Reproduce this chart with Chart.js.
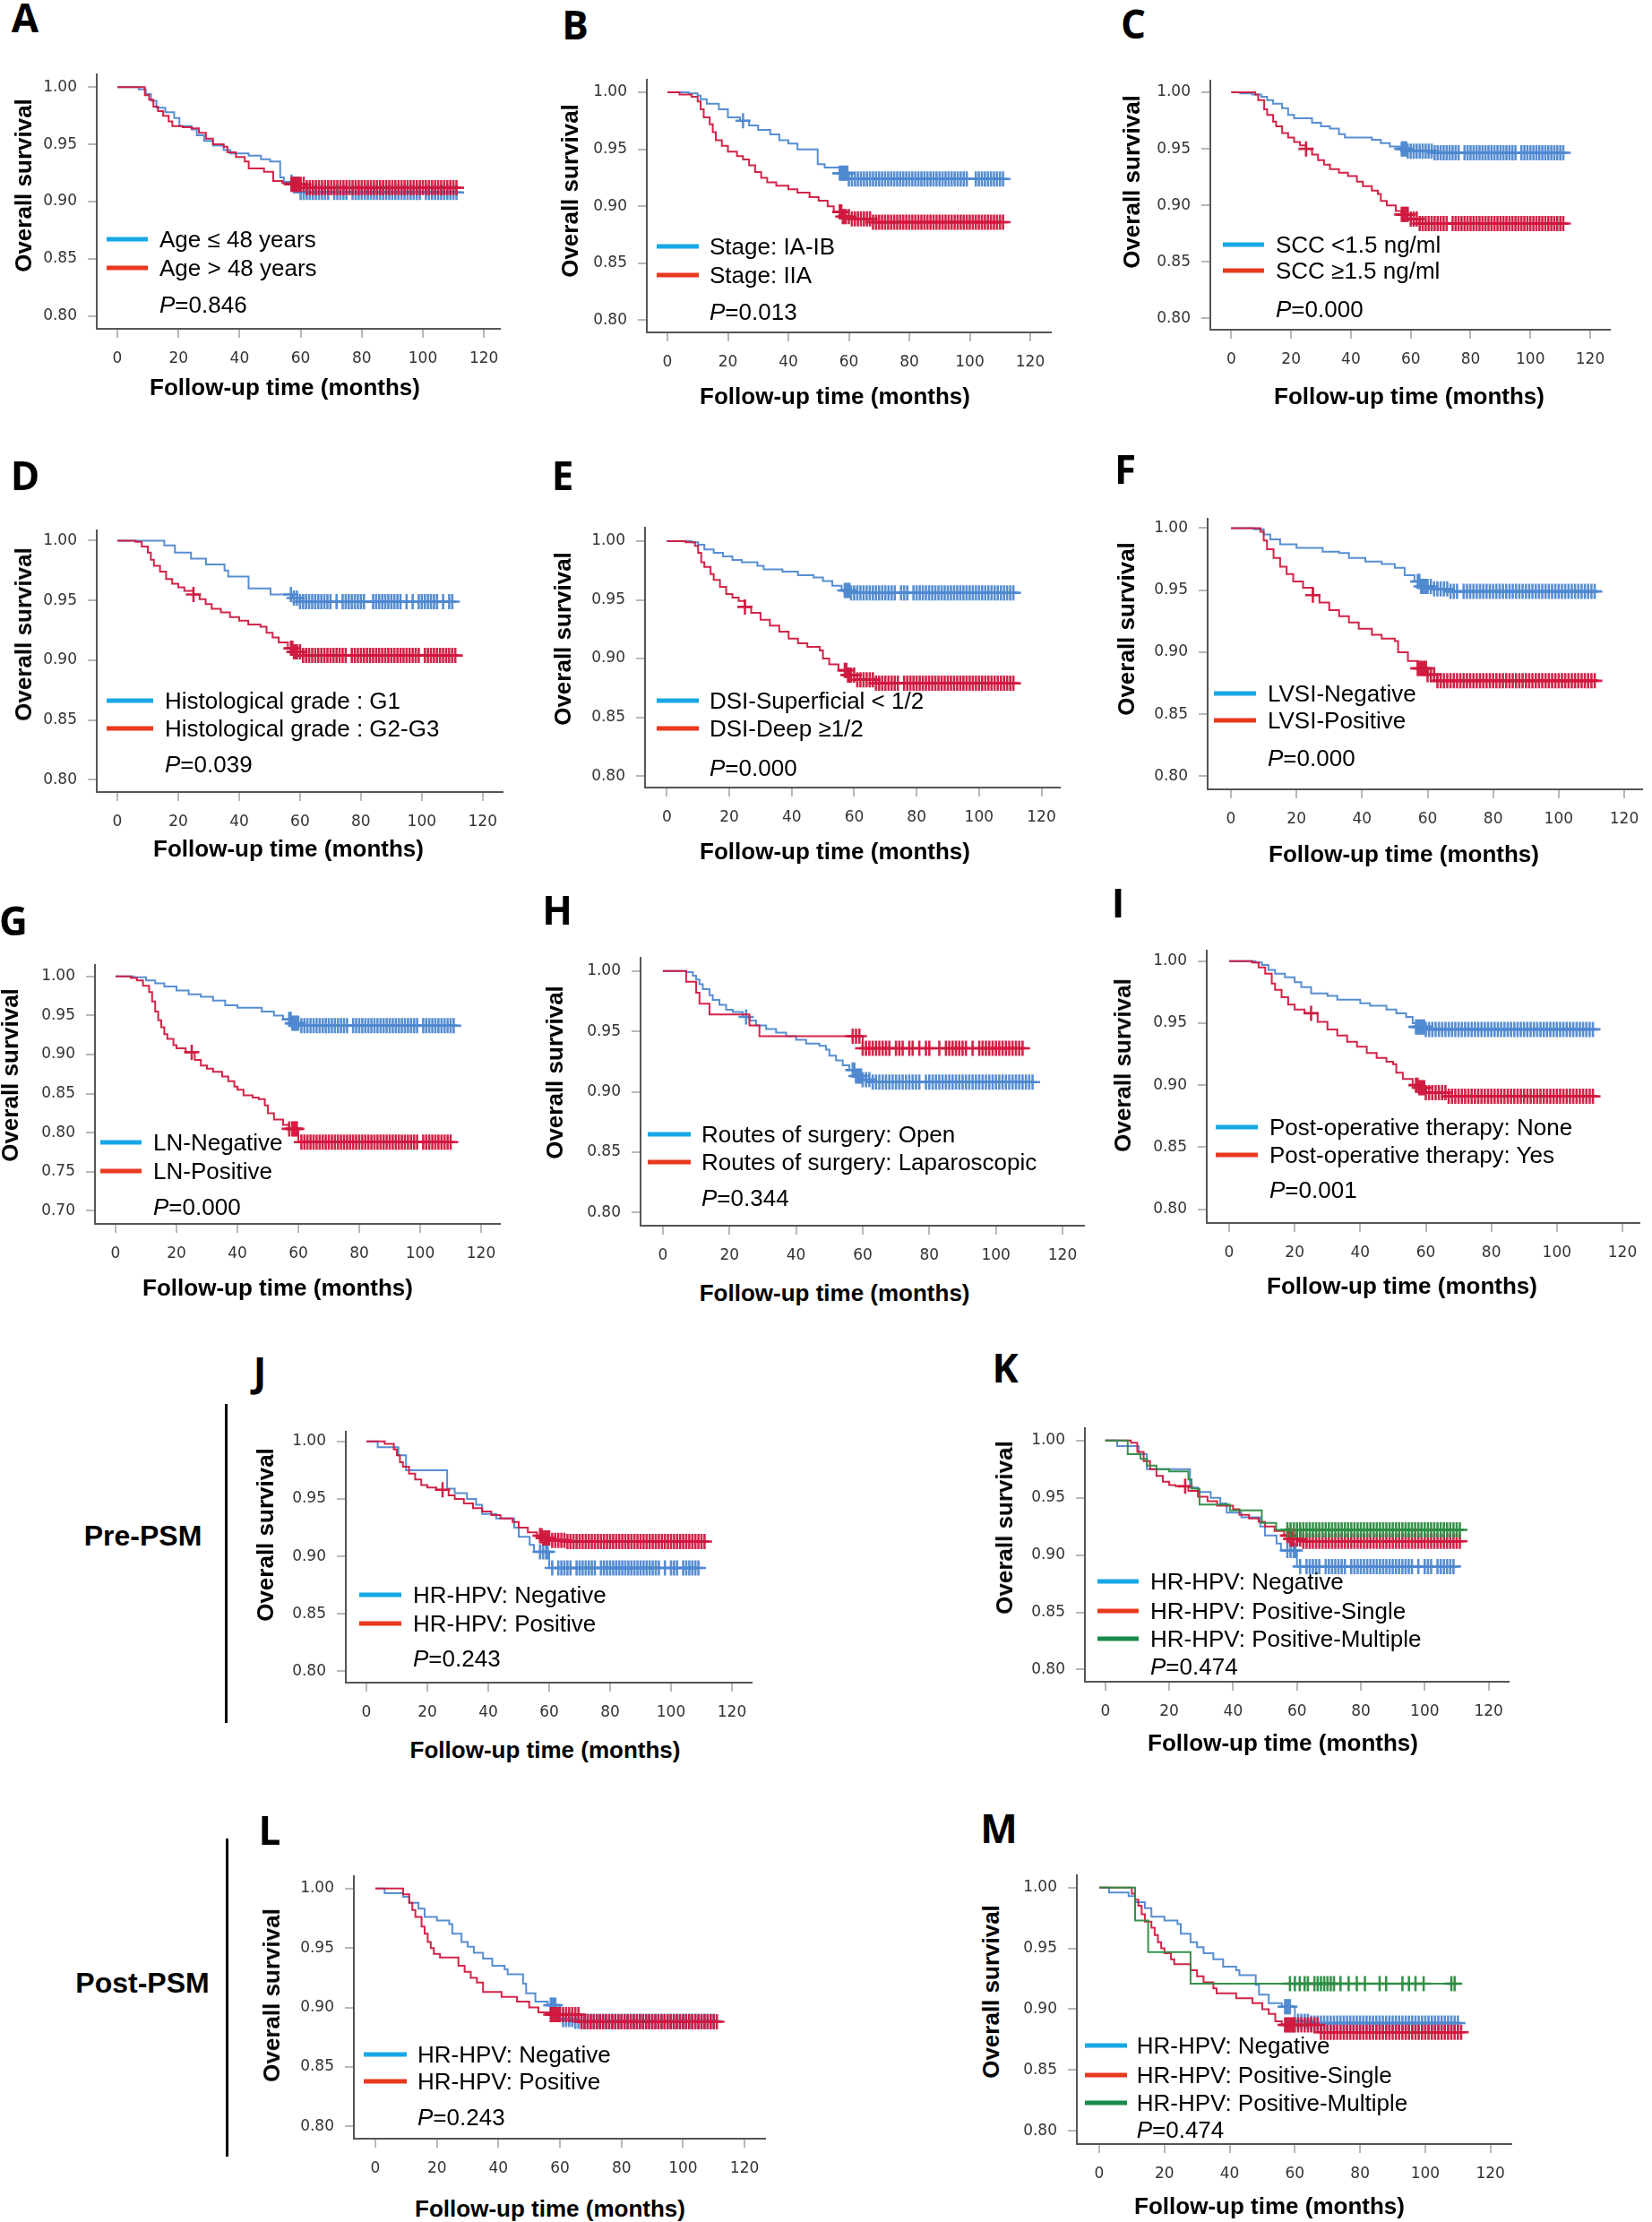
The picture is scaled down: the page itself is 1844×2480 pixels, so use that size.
<!DOCTYPE html>
<html>
<head>
<meta charset="utf-8">
<script src="https://cdn.jsdelivr.net/npm/chart.js@4.4.0/dist/chart.umd.min.js"></script>
<style>
  body { margin: 0; background: #fff; }
  #fig { position: relative; width: 1844px; height: 2480px; background: #fff; overflow: hidden;
         font-family: "Liberation Sans", Arial, sans-serif; color: #000; }
  #fig canvas { position: absolute; }
  .lbl { position: absolute; white-space: nowrap; line-height: 1; }
  .letter { font-family: "Open Sans", sans-serif; font-weight: 700; font-size: 44px; transform: translate(-50%, -50%); }
  .xt { font-weight: 700; font-size: 26px; transform: translate(-50%, -50%); }
  .yt { font-weight: 700; font-size: 26px; transform: translate(-50%, -50%) rotate(-90deg); }
  .leg { transform: translateY(-50%); font-size: 26px; }
  .key { position: absolute; height: 5px; transform: translateY(-50%); }
  .grp { font-weight: 700; font-size: 32px; transform: translate(-50%, -50%); }
  .bar { position: absolute; width: 3px; background: #000; }
</style>
</head>
<body>
<div id="fig"></div>
<script>
// tick values shared by all panels
const xTicks = [0, 20, 40, 60, 80, 100, 120];
const yTicks = [0.80, 0.85, 0.90, 0.95, 1.00];
const yTicksLN = [0.70, 0.75, 0.80, 0.85, 0.90, 0.95, 1.00];

// survival curves: event times (months) and survival after each event
// A - age
const aBlueT = [0, 7, 9.3, 11, 12.8, 15.7, 18.6, 20.3, 24.3, 26, 28.4, 31.3, 34.8, 37, 43, 47, 50, 53.3, 54.5, 58, 59.7, 111.5];
const aBlueS = [1, 0.998, 0.994, 0.988, 0.982, 0.978, 0.973, 0.966, 0.963, 0.958, 0.953, 0.949, 0.945, 0.942, 0.940, 0.937, 0.935, 0.921, 0.917, 0.915, 0.908, 0.908];
const aRedT = [0, 9, 10.4, 11.8, 13.3, 15, 16.8, 18, 21.4, 24.3, 26.7, 29, 31.3, 34.8, 36, 38.8, 41.7, 43, 48, 51, 54, 57, 61.4, 112];
const aRedS = [1, 0.993, 0.989, 0.983, 0.979, 0.975, 0.970, 0.966, 0.965, 0.964, 0.960, 0.955, 0.950, 0.948, 0.943, 0.939, 0.935, 0.929, 0.926, 0.918, 0.916, 0.915, 0.912, 0.912];
// B - stage
const bBlueT = [0, 7, 10, 11, 13, 17, 20, 24, 27, 30, 34, 37, 40, 43, 49.7, 52, 57, 59.6, 112];
const bBlueS = [1, 0.999, 0.997, 0.994, 0.990, 0.985, 0.978, 0.975, 0.971, 0.967, 0.963, 0.958, 0.955, 0.950, 0.937, 0.934, 0.929, 0.924, 0.924];
const bRedT = [0, 4, 8, 10, 11, 12, 14, 15, 16, 18, 20, 23, 25, 27, 29, 31, 33, 36, 40, 43, 47, 50, 53, 55, 58, 61, 68, 112];
const bRedS = [1, 0.998, 0.996, 0.992, 0.985, 0.978, 0.972, 0.965, 0.958, 0.953, 0.948, 0.944, 0.941, 0.936, 0.930, 0.925, 0.921, 0.918, 0.915, 0.912, 0.908, 0.905, 0.900, 0.895, 0.891, 0.889, 0.886, 0.886];
// C - SCC
const cBlueT = [0, 3, 7, 10, 12, 14, 17, 19, 21, 27, 30, 33, 36, 38, 47, 50, 53, 57, 59, 68, 111.5];
const cBlueS = [1, 0.999, 0.998, 0.996, 0.993, 0.990, 0.986, 0.980, 0.977, 0.973, 0.970, 0.968, 0.963, 0.960, 0.958, 0.955, 0.952, 0.950, 0.948, 0.9465, 0.9465];
const cRedT = [0, 8, 9, 11, 12, 14, 15, 17, 19, 21, 23, 25, 27, 29, 31, 33, 36, 39, 42, 44, 47, 49, 50, 52, 55, 57, 60, 63, 111.5];
const cRedS = [1, 0.998, 0.993, 0.985, 0.980, 0.974, 0.970, 0.964, 0.960, 0.956, 0.953, 0.950, 0.945, 0.940, 0.936, 0.932, 0.929, 0.926, 0.921, 0.917, 0.913, 0.910, 0.904, 0.900, 0.895, 0.892, 0.888, 0.884, 0.884];
// D - histological grade
const dBlueT = [0, 15.4, 18.9, 24.2, 29.1, 35.2, 36.4, 43.1, 50.3, 57.7, 60, 111];
const dBlueS = [1, 0.996, 0.990, 0.985, 0.980, 0.975, 0.970, 0.960, 0.955, 0.952, 0.949, 0.949];
const dRedT = [0, 6, 8, 10, 11, 12, 14, 16, 18, 20, 22, 25, 27, 29, 31, 34, 37, 40, 43, 47, 49, 51, 53, 56, 58, 61, 111];
const dRedS = [1, 0.999, 0.995, 0.990, 0.984, 0.979, 0.974, 0.968, 0.964, 0.961, 0.958, 0.955, 0.951, 0.947, 0.943, 0.940, 0.936, 0.933, 0.930, 0.928, 0.923, 0.919, 0.915, 0.910, 0.907, 0.904, 0.904];
// E - depth of stromal invasion
const eBlueT = [0, 8, 10, 12, 15, 18, 21, 24, 29, 31, 37, 42, 47, 50, 53, 56, 59, 111.5];
const eBlueS = [1, 0.999, 0.997, 0.993, 0.990, 0.987, 0.984, 0.982, 0.979, 0.976, 0.974, 0.971, 0.969, 0.966, 0.962, 0.958, 0.956, 0.956];
const eRedT = [0, 6, 9, 10, 11, 12, 14, 15, 17, 19, 21, 23, 25, 27, 30, 33, 36, 39, 42, 45, 49, 50, 52, 55, 58, 61, 67, 111.5];
const eRedS = [1, 0.999, 0.996, 0.990, 0.982, 0.978, 0.972, 0.967, 0.961, 0.955, 0.952, 0.949, 0.944, 0.939, 0.933, 0.928, 0.923, 0.917, 0.913, 0.910, 0.907, 0.900, 0.895, 0.890, 0.886, 0.882, 0.879, 0.879];
// F - LVSI
const fBlueT = [0, 7, 10, 12, 15, 20, 28, 33, 36, 41, 46, 50, 53, 56, 58, 62, 67, 112];
const fBlueS = [1, 0.999, 0.995, 0.991, 0.987, 0.984, 0.981, 0.980, 0.976, 0.973, 0.971, 0.968, 0.962, 0.957, 0.953, 0.951, 0.949, 0.949];
const fRedT = [0, 9, 10, 11, 13, 15, 17, 19, 22, 25, 27, 30, 33, 36, 39, 43, 46, 50, 51, 54, 57, 60, 63, 112];
const fRedS = [1, 0.997, 0.990, 0.983, 0.976, 0.969, 0.963, 0.957, 0.952, 0.946, 0.940, 0.934, 0.929, 0.924, 0.919, 0.914, 0.911, 0.909, 0.900, 0.893, 0.887, 0.882, 0.877, 0.877];
// G - lymph nodes
const gBlueT = [0, 6, 10, 13, 16, 20, 24, 28, 32, 36, 40, 48, 52, 55, 58, 61, 111];
const gBlueS = [1, 0.999, 0.995, 0.991, 0.987, 0.982, 0.977, 0.974, 0.969, 0.963, 0.960, 0.955, 0.950, 0.945, 0.940, 0.937, 0.937];
const gRedT = [0, 5, 7, 9, 11, 12, 13, 14, 15, 16, 17, 19, 20, 23, 26, 28, 30, 32, 35, 37, 39, 40, 42, 45, 47, 49, 50, 52, 55, 57, 60, 110];
const gRedS = [1, 0.998, 0.995, 0.988, 0.980, 0.968, 0.955, 0.944, 0.935, 0.926, 0.920, 0.912, 0.908, 0.903, 0.893, 0.886, 0.882, 0.878, 0.872, 0.866, 0.859, 0.855, 0.848, 0.845, 0.843, 0.835, 0.825, 0.817, 0.810, 0.805, 0.788, 0.788];
// H - routes of surgery
const hBlueT = [0, 7, 9, 10, 11, 12, 14, 15, 17, 19, 21, 24, 26, 28, 31, 34, 37, 40, 43, 47, 49, 50, 52, 54, 56, 58, 60, 63, 111.5];
const hBlueS = [1, 0.999, 0.996, 0.993, 0.989, 0.985, 0.980, 0.976, 0.972, 0.968, 0.966, 0.962, 0.959, 0.955, 0.952, 0.949, 0.946, 0.943, 0.940, 0.938, 0.935, 0.930, 0.926, 0.922, 0.918, 0.913, 0.910, 0.908, 0.908];
const hRedT = [0, 7, 10, 11, 14, 26, 29, 60, 108];
const hRedS = [1, 0.991, 0.982, 0.973, 0.964, 0.955, 0.946, 0.936, 0.936];
// I - post-operative therapy
const iBlueT = [0, 8, 10, 12, 14, 17, 20, 22, 25, 30, 33, 40, 43, 48, 51, 54, 56, 57, 60, 112];
const iBlueS = [1, 0.999, 0.997, 0.993, 0.990, 0.987, 0.983, 0.979, 0.974, 0.972, 0.969, 0.966, 0.964, 0.961, 0.958, 0.955, 0.950, 0.947, 0.945, 0.945];
const iRedT = [0, 7, 9, 11, 13, 14, 16, 18, 20, 23, 27, 30, 33, 36, 39, 42, 45, 48, 50, 51, 53, 56, 58, 60, 67, 112];
const iRedS = [1, 0.999, 0.995, 0.990, 0.982, 0.977, 0.971, 0.965, 0.961, 0.958, 0.951, 0.945, 0.940, 0.935, 0.931, 0.926, 0.922, 0.919, 0.917, 0.910, 0.905, 0.900, 0.898, 0.894, 0.891, 0.891];
// J/K - HR-HPV before PSM
const preNegT = [0, 3.7, 10.5, 13, 26.5, 29, 33, 36, 38, 42.6, 48.5, 50, 53.6, 55, 60, 109.5];
const preNegS = [1, 0.995, 0.988, 0.975, 0.959, 0.955, 0.950, 0.945, 0.937, 0.933, 0.925, 0.917, 0.910, 0.904, 0.890, 0.890];
const prePosT = [0, 6, 9, 10, 11, 12, 14, 16, 18, 20, 23, 27, 29, 32, 35, 38, 41, 44, 48, 50, 53, 56, 58, 61, 66, 111.5];
const prePosS = [1, 0.998, 0.993, 0.988, 0.982, 0.978, 0.972, 0.967, 0.962, 0.960, 0.958, 0.953, 0.950, 0.946, 0.942, 0.939, 0.936, 0.933, 0.930, 0.925, 0.921, 0.918, 0.916, 0.914, 0.913, 0.913];
const preSingleT = [0, 8, 10, 12, 14, 16, 18, 20, 22, 26, 29, 32, 35, 40, 42, 45, 48, 50, 53, 56, 58, 62, 111.5];
const preSingleS = [1, 0.998, 0.990, 0.982, 0.975, 0.969, 0.964, 0.961, 0.960, 0.956, 0.951, 0.947, 0.943, 0.940, 0.935, 0.932, 0.929, 0.925, 0.921, 0.917, 0.914, 0.912, 0.912];
const preMultiT = [0, 7, 11, 13, 16, 20, 26, 27, 29.5, 39, 49, 53.5, 111.5];
const preMultiS = [1, 0.988, 0.984, 0.978, 0.975, 0.973, 0.966, 0.958, 0.944, 0.939, 0.928, 0.922, 0.922];
// L/M - HR-HPV after PSM
const postNegT = [0, 3, 9, 11, 14, 16, 20, 24, 25, 28, 30, 32, 35, 38, 42, 43, 48, 49, 52, 56, 60, 65, 110];
const postNegS = [1, 0.996, 0.993, 0.988, 0.983, 0.976, 0.973, 0.970, 0.962, 0.955, 0.951, 0.946, 0.941, 0.935, 0.932, 0.928, 0.920, 0.912, 0.905, 0.902, 0.890, 0.8885, 0.8885];
const postPosT = [0, 9, 11, 12, 13, 15, 16, 17, 18, 19, 21, 27, 29, 31, 33, 35, 41, 46, 50, 53, 57, 67, 111];
const postPosS = [1, 0.995, 0.988, 0.982, 0.976, 0.968, 0.962, 0.955, 0.950, 0.945, 0.942, 0.935, 0.930, 0.925, 0.921, 0.913, 0.909, 0.905, 0.900, 0.896, 0.894, 0.888, 0.888];
const postSingleT = [0, 10, 11, 12, 13, 14, 16, 17, 18, 19, 20, 22, 23, 28, 30, 32, 35, 36, 42, 47, 50, 52, 54, 56, 68, 111];
const postSingleS = [1, 0.995, 0.990, 0.985, 0.978, 0.972, 0.967, 0.961, 0.955, 0.950, 0.946, 0.941, 0.937, 0.932, 0.927, 0.922, 0.917, 0.913, 0.909, 0.905, 0.900, 0.896, 0.890, 0.887, 0.881, 0.881];
const postMultiT = [0, 11, 15, 28, 111];
const postMultiS = [1, 0.973, 0.947, 0.921, 0.921];

// censoring times (months) for the "+" marks
const aBlueC = [57, 58, 59, 60, 61, 62, 63, 64, 65, 66, 67, 68, 69, 71, 72, 73, 74, 75, 77, 78, 79, 80, 81, 82, 83, 84, 85, 86, 87, 88, 89, 90, 91, 92, 93, 94, 95, 96, 97, 98, 99, 101, 102, 103, 104, 105, 106, 107, 108, 109, 110, 111];
const aRedC = [57, 57.5, 58, 58.5, 59, 59.5, 60, 61, 62, 63, 64, 65, 66, 67, 68, 69, 70, 71, 72, 73, 74, 75, 76, 77, 78, 79, 80, 81, 82, 83, 84, 85, 86, 87, 88, 89, 90, 91, 92, 93, 94, 95, 96, 97, 98, 99, 100, 101, 102, 103, 104, 105, 106, 107, 108, 109, 110, 111];
const bBlueC = [25, 57, 57.5, 58, 58.5, 59, 59.5, 60, 61, 62, 63, 64, 65, 66, 67, 68, 69, 70, 71, 72, 73, 74, 75, 76, 77, 78, 79, 80, 81, 82, 83, 84, 85, 86, 87, 88, 89, 90, 91, 92, 93, 94, 95, 96, 97, 98, 99, 102, 103, 104, 105, 106, 107, 108, 109, 110, 111];
const bRedC = [57, 57.5, 58, 58.5, 59, 60, 61, 62, 63, 64, 65, 66, 67, 68, 69, 70, 71, 72, 73, 74, 75, 76, 77, 78, 79, 80, 81, 82, 83, 84, 85, 86, 87, 88, 89, 90, 91, 92, 93, 94, 95, 96, 97, 98, 99, 100, 101, 102, 103, 104, 105, 106, 107, 108, 109, 110, 111];
const cBlueC = [57, 57.5, 58, 58.5, 59, 60, 61, 62, 63, 64, 65, 66, 67, 68, 69, 70, 71, 72, 73, 74, 75, 76, 78, 79, 80, 81, 82, 83, 84, 85, 86, 87, 88, 89, 90, 91, 92, 93, 94, 95, 97, 98, 99, 100, 101, 102, 103, 104, 105, 106, 107, 108, 109, 110, 111];
const cRedC = [25, 57, 57.5, 58, 58.5, 59, 60, 61, 62, 63, 64, 65, 66, 67, 68, 69, 70, 71, 72, 74, 75, 76, 77, 78, 79, 80, 81, 82, 83, 84, 85, 86, 87, 88, 89, 90, 91, 92, 93, 94, 95, 96, 97, 98, 99, 100, 101, 102, 103, 104, 105, 106, 107, 108, 109, 110, 111];
const dBlueC = [57, 58, 59, 60, 61, 62, 63, 64, 65, 66, 67, 68, 69, 70, 72, 74, 75, 76, 77, 78, 79, 80, 81, 84, 85, 86, 87, 88, 89, 90, 91, 92, 93, 95, 97, 99, 100, 101, 102, 103, 104, 105, 107, 109, 110];
const dRedC = [25, 57, 57.5, 58, 58.5, 59, 60, 61, 62, 63, 64, 65, 66, 67, 68, 69, 70, 71, 72, 73, 74, 75, 77, 78, 79, 80, 81, 82, 83, 84, 85, 86, 87, 88, 89, 90, 91, 92, 93, 94, 95, 96, 97, 98, 99, 101, 102, 103, 104, 105, 106, 107, 108, 109, 110, 111];
const eBlueC = [57, 57.5, 58, 58.5, 59, 60, 61, 62, 63, 64, 65, 66, 67, 68, 69, 70, 71, 72, 73, 75, 76, 77, 79, 80, 81, 82, 83, 84, 85, 86, 87, 88, 89, 90, 91, 92, 93, 94, 95, 96, 97, 98, 99, 100, 101, 102, 103, 104, 105, 106, 107, 108, 109, 110, 111];
const eRedC = [25, 57, 57.5, 58, 58.5, 59, 60, 61, 62, 63, 64, 65, 66, 67, 68, 69, 70, 71, 72, 73, 74, 76, 77, 78, 79, 80, 81, 82, 83, 84, 85, 86, 87, 88, 89, 90, 91, 92, 93, 94, 95, 96, 97, 98, 99, 100, 101, 102, 103, 104, 105, 106, 107, 108, 109, 110, 111];
const fBlueC = [57, 57.5, 58, 58.5, 59, 59.5, 60, 61, 62, 63, 64, 65, 66, 67, 68, 69, 71, 72, 73, 74, 75, 76, 77, 78, 79, 80, 81, 82, 83, 84, 85, 86, 87, 88, 89, 90, 91, 92, 93, 94, 95, 96, 97, 98, 99, 100, 101, 102, 103, 104, 105, 106, 107, 108, 109, 110, 111];
const fRedC = [25, 57, 57.5, 58, 58.5, 59, 59.5, 60, 61, 62, 63, 64, 65, 66, 67, 68, 69, 70, 71, 72, 73, 74, 75, 76, 77, 78, 79, 80, 81, 82, 83, 84, 85, 86, 87, 88, 89, 90, 91, 92, 93, 94, 95, 96, 97, 98, 99, 100, 101, 102, 103, 104, 105, 106, 107, 108, 109, 110, 111];
const gBlueC = [57, 57.5, 58, 58.5, 59, 59.5, 60, 61, 62, 63, 64, 65, 66, 67, 68, 69, 70, 71, 72, 73, 74, 75, 76, 78, 79, 80, 81, 82, 83, 84, 85, 86, 87, 88, 89, 90, 91, 92, 93, 94, 95, 96, 97, 98, 99, 101, 102, 103, 104, 105, 106, 107, 108, 109, 110, 111];
const gRedC = [25, 57, 58, 58.5, 59, 59.5, 61, 62, 63, 64, 65, 66, 67, 68, 69, 70, 71, 72, 73, 74, 75, 76, 77, 78, 79, 80, 81, 82, 83, 84, 85, 86, 87, 88, 89, 90, 91, 92, 93, 94, 95, 96, 97, 98, 99, 101, 102, 103, 104, 105, 106, 107, 108, 109, 110];
const hBlueC = [25, 57, 57.5, 58, 58.5, 59, 59.5, 60, 61, 62, 63, 64, 65, 66, 67, 68, 69, 70, 71, 72, 73, 74, 75, 76, 77, 79, 80, 81, 82, 83, 84, 85, 86, 87, 88, 89, 90, 91, 92, 93, 94, 95, 96, 97, 98, 99, 100, 101, 102, 103, 104, 105, 106, 107, 108, 109, 110, 111];
const hRedC = [57, 58, 59, 60, 61, 62, 63, 64, 65, 66, 67, 68, 70, 71, 72, 74, 75, 77, 79, 80, 83, 85, 86, 87, 88, 89, 90, 91, 93, 95, 96, 97, 98, 99, 100, 101, 102, 103, 104, 105, 106, 107, 108];
const iBlueC = [57, 57.5, 58, 58.5, 59, 59.5, 60, 61, 62, 63, 64, 65, 66, 67, 68, 69, 70, 71, 72, 73, 74, 75, 76, 77, 78, 79, 80, 81, 82, 83, 84, 85, 86, 87, 88, 89, 90, 91, 92, 93, 94, 95, 96, 97, 98, 99, 100, 101, 102, 103, 104, 105, 106, 107, 108, 109, 110, 111];
const iRedC = [25, 57, 57.5, 58, 58.5, 59, 59.5, 60, 61, 62, 63, 64, 65, 66, 67, 68, 69, 70, 71, 72, 73, 74, 75, 76, 77, 78, 79, 80, 81, 82, 83, 84, 85, 86, 87, 88, 89, 90, 91, 92, 93, 94, 95, 96, 97, 98, 99, 100, 101, 102, 103, 104, 105, 106, 107, 108, 109, 110, 111];
const preNegC = [57, 58, 59, 59.5, 61, 63, 64, 65, 66, 67, 69, 70, 71, 72, 73, 74, 75, 77, 78, 79, 80, 81, 82, 83, 84, 85, 86, 87, 88, 89, 90, 91, 92, 93, 94, 95, 96, 98, 100, 101, 102, 104, 105, 106, 107, 108, 109];
const prePosC = [25, 57, 57.5, 58, 58.5, 59, 59.5, 60, 61, 62, 63, 64, 65, 66, 67, 68, 69, 70, 71, 72, 73, 74, 75, 76, 77, 78, 79, 80, 81, 82, 83, 84, 85, 86, 87, 88, 89, 90, 91, 92, 93, 94, 95, 96, 97, 98, 99, 100, 101, 102, 103, 104, 105, 106, 107, 108, 109, 110, 111];
const preSingleC = [25, 57, 57.5, 58, 58.5, 59, 60, 61, 62, 63, 64, 65, 66, 67, 68, 69, 70, 71, 72, 73, 74, 75, 76, 77, 78, 79, 80, 81, 82, 83, 84, 85, 86, 87, 88, 89, 90, 91, 92, 93, 94, 95, 96, 97, 98, 99, 100, 101, 102, 103, 104, 105, 106, 107, 108, 109, 110, 111];
const preMultiC = [57, 58, 59, 60, 61, 62, 63, 64, 65, 66, 67, 68, 69, 70, 71, 72, 73, 74, 75, 76, 77, 78, 79, 80, 81, 82, 83, 84, 85, 86, 87, 88, 89, 90, 91, 92, 93, 94, 95, 96, 97, 98, 99, 100, 101, 102, 103, 104, 105, 106, 107, 108, 109, 110, 111];
const postNegC = [57, 57.5, 58, 58.5, 61, 62, 63, 64, 65, 66, 67, 68, 69, 70, 71, 72, 73, 74, 75, 76, 77, 78, 79, 80, 81, 82, 83, 84, 85, 86, 87, 88, 89, 90, 91, 92, 93, 94, 95, 96, 97, 98, 99, 100, 101, 102, 103, 104, 105, 106, 107, 108, 109, 110];
const postPosC = [57, 57.5, 58, 58.5, 59, 59.5, 60, 61, 62, 63, 64, 65, 66, 67, 68, 69, 70, 71, 72, 73, 74, 75, 76, 77, 78, 79, 80, 81, 82, 83, 84, 85, 86, 87, 88, 89, 90, 91, 92, 93, 94, 95, 96, 97, 98, 99, 100, 101, 102, 103, 104, 105, 106, 107, 108, 109, 110, 111];
const postSingleC = [57, 57.5, 58, 58.5, 59, 59.5, 60, 61, 62, 63, 64, 65, 66, 67, 68, 69, 70, 71, 72, 73, 74, 75, 76, 77, 78, 79, 80, 81, 82, 83, 84, 85, 86, 87, 88, 89, 90, 91, 92, 93, 94, 95, 96, 97, 98, 99, 100, 101, 102, 103, 104, 105, 106, 107, 108, 109, 110, 111];
const postMultiC = [58.5, 60, 61.5, 63, 64, 66, 67, 68, 69, 70, 71, 72, 74, 76.5, 79, 81.5, 86, 88, 93, 95, 97, 99.5, 108, 109];

// legend labels and p values
const labelsA = ['Age \u2264 48 years', 'Age > 48 years'];
const labelsB = ['Stage: IA-IB', 'Stage: IIA'];
const labelsC = ['SCC <1.5 ng/ml', 'SCC \u22651.5 ng/ml'];
const labelsD = ['Histological grade : G1', 'Histological grade : G2-G3'];
const labelsE = ['DSI-Superficial < 1/2', 'DSI-Deep \u22651/2'];
const labelsF = ['LVSI-Negative', 'LVSI-Positive'];
const labelsG = ['LN-Negative', 'LN-Positive'];
const labelsH = ['Routes of surgery: Open', 'Routes of surgery: Laparoscopic'];
const labelsI = ['Post-operative therapy: None', 'Post-operative therapy: Yes'];
const labelsHpv2 = ['HR-HPV: Negative', 'HR-HPV: Positive'];
const labelsHpv3 = ['HR-HPV: Negative', 'HR-HPV: Positive-Single', 'HR-HPV: Positive-Multiple'];
const pValues = { A: '0.846', B: '0.013', C: '0.000', D: '0.039', E: '0.000', F: '0.000', G: '0.000',
                  H: '0.344', I: '0.001', J: '0.243', K: '0.474', L: '0.243', M: '0.474' };

const lineColor = { blue: 'rgba(78,136,208,0.95)', red: 'rgba(208,24,62,0.95)', green: 'rgba(44,140,66,0.95)' };
const keyColor = { blue: '#17a7e6', red: '#e8391e', green: '#178a4a' };
const drawOrder = { green: 0, red: 1, blue: 2 };

function s(T, S, C, col) { return { T: T, S: S, C: C, col: col }; }

// panel geometry in page pixels (axis line, tick 0 / tick 120, value 1.00 / lowest tick, x axis line)
const panels = [
  { id: 'A', lx: 28, ly: 19, ax: 107.5, t0: 130.5, t120: 539.7, axEnd: 557.5, yTop: 72.7, y1: 87.3, yLo: 351.7, xAxisY: 366.7,
    key: [118.6, 165], keyY: [267, 299], tx: 178, pY: 340, xt: [318, 432], yt: [25.7, 207], labels: labelsA,
    series: [s(aBlueT, aBlueS, aBlueC, 'blue'), s(aRedT, aRedS, aRedC, 'red')] },
  { id: 'B', lx: 642, ly: 27, ax: 722, t0: 745, t120: 1150, axEnd: 1173, yTop: 79, y1: 93.3, yLo: 356.7, xAxisY: 370.7,
    key: [733, 780], keyY: [275, 307], tx: 792, pY: 348, xt: [932, 442], yt: [636, 213], labels: labelsB,
    series: [s(bBlueT, bBlueS, bBlueC, 'blue'), s(bRedT, bRedS, bRedC, 'red')] },
  { id: 'C', lx: 1265, ly: 26, ax: 1350.6, t0: 1374, t120: 1775, axEnd: 1797, yTop: 80, y1: 93.3, yLo: 355, xAxisY: 368,
    key: [1365, 1411], keyY: [273, 302], tx: 1424, pY: 345, xt: [1573, 442], yt: [1263, 203], labels: labelsC,
    series: [s(cBlueT, cBlueS, cBlueC, 'blue'), s(cRedT, cRedS, cRedC, 'red')] },
  { id: 'D', lx: 28, ly: 530, ax: 107.5, t0: 130.5, t120: 537.8, axEnd: 560, yTop: 581.7, y1: 593.3, yLo: 870, xAxisY: 884,
    key: [118.6, 171], keyY: [781.7, 813.3], tx: 184, pY: 853, xt: [322, 947], yt: [25.7, 708], labels: labelsD,
    series: [s(dBlueT, dBlueS, dBlueC, 'blue'), s(dRedT, dRedS, dRedC, 'red')] },
  { id: 'E', lx: 628, ly: 530, ax: 719.6, t0: 744, t120: 1162.5, axEnd: 1183, yTop: 579, y1: 594.3, yLo: 865.7, xAxisY: 879,
    key: [733, 780], keyY: [782, 813], tx: 792, pY: 857, xt: [932, 950], yt: [628, 713], labels: labelsE,
    series: [s(eBlueT, eBlueS, eBlueC, 'blue'), s(eRedT, eRedS, eRedC, 'red')] },
  { id: 'F', lx: 1256, ly: 523, ax: 1348, t0: 1374, t120: 1813, axEnd: 1833, yTop: 569, y1: 579.6, yLo: 866, xAxisY: 881,
    key: [1355, 1402], keyY: [774, 804], tx: 1415, pY: 846, xt: [1567, 953], yt: [1257, 702], labels: labelsF,
    series: [s(fBlueT, fBlueS, fBlueC, 'blue'), s(fRedT, fRedS, fRedC, 'red')] },
  { id: 'G', lx: 15, ly: 1027, ax: 106, t0: 129, t120: 537, axEnd: 558, yTop: 1067, y1: 1080, yLo: 1350.7, xAxisY: 1365.7, low: 0.70,
    key: [111.5, 158], keyY: [1275, 1306.7], tx: 171, pY: 1347, xt: [310, 1437], yt: [11, 1200], labels: labelsG,
    series: [s(gBlueT, gBlueS, gBlueC, 'blue'), s(gRedT, gRedS, gRedC, 'red')] },
  { id: 'H', lx: 622, ly: 1015, ax: 714.7, t0: 739.6, t120: 1186, axEnd: 1210, yTop: 1059, y1: 1074, yLo: 1352.7, xAxisY: 1367.7,
    key: [723, 771], keyY: [1266, 1296.7], tx: 783, pY: 1337, xt: [931.6, 1443], yt: [619, 1197], labels: labelsH,
    series: [s(hBlueT, hBlueS, hBlueC, 'blue'), s(hRedT, hRedS, hRedC, 'red')] },
  { id: 'I', lx: 1248, ly: 1007, ax: 1347, t0: 1372, t120: 1811, axEnd: 1830, yTop: 1051, y1: 1063, yLo: 1349, xAxisY: 1365,
    key: [1357, 1404], keyY: [1257.5, 1289], tx: 1417, pY: 1328, xt: [1565, 1435], yt: [1253, 1189], labels: labelsI,
    series: [s(iBlueT, iBlueS, iBlueC, 'blue'), s(iRedT, iRedS, iRedC, 'red')] },
  { id: 'J', lx: 290, ly: 1530, ax: 386, t0: 409, t120: 817, axEnd: 839, yTop: 1588, y1: 1599, yLo: 1865, xAxisY: 1878,
    key: [400.7, 447.8], keyY: [1780, 1811.7], tx: 461, pY: 1850.7, xt: [608.5, 1953], yt: [295.6, 1713], labels: labelsHpv2,
    series: [s(preNegT, preNegS, preNegC, 'blue'), s(prePosT, prePosS, prePosC, 'red')] },
  { id: 'K', lx: 1122, ly: 1526, ax: 1211, t0: 1233.8, t120: 1661.6, axEnd: 1684, yTop: 1584, y1: 1598, yLo: 1863, xAxisY: 1877,
    key: [1224.7, 1271], keyY: [1765, 1798, 1829], tx: 1284, pY: 1860, xt: [1432, 1945], yt: [1121, 1705], labels: labelsHpv3,
    series: [s(preNegT, preNegS, preNegC, 'blue'), s(preSingleT, preSingleS, preSingleC, 'red'), s(preMultiT, preMultiS, preMultiC, 'green')] },
  { id: 'L', lx: 301, ly: 2042, ax: 395, t0: 419, t120: 830.7, axEnd: 853.6, yTop: 2084, y1: 2098, yLo: 2373, xAxisY: 2387,
    key: [406, 453.5], keyY: [2293, 2323], tx: 466, pY: 2363, xt: [614, 2465], yt: [303, 2227], labels: labelsHpv2,
    series: [s(postNegT, postNegS, postNegC, 'blue'), s(postPosT, postPosS, postPosC, 'red')] },
  { id: 'M', lx: 1115, ly: 2040, ax: 1202, t0: 1227, t120: 1663.7, axEnd: 1687, yTop: 2083, y1: 2097, yLo: 2377.3, xAxisY: 2392.7,
    key: [1211, 1257.6], keyY: [2282.7, 2316, 2347], tx: 1268.7, pY: 2377, xt: [1417, 2462], yt: [1105.7, 2223], labels: labelsHpv3,
    series: [s(postNegT, postNegS, postNegC, 'blue'), s(postSingleT, postSingleS, postSingleC, 'red'), s(postMultiT, postMultiS, postMultiC, 'green')] }
];

const fig = document.getElementById('fig');

function addText(cls, html, x, y) {
  const d = document.createElement('div');
  d.className = 'lbl ' + cls;
  d.innerHTML = html;
  d.style.left = x + 'px';
  d.style.top = y + 'px';
  fig.appendChild(d);
  return d;
}

// survival value at time t, read from the step arrays
function survAt(T, S, t) {
  let v = S[0];
  for (let i = 0; i < T.length; i++) { if (T[i] <= t) v = S[i]; }
  return v;
}

function drawPanel(p) {
  const YW = 80, XH = 60, PT = 12, PR = 26;
  const low = p.low || 0.80;
  const ppm = (p.t120 - p.t0) / 120;
  const xMin = -(p.t0 - p.ax) / ppm;
  const xMax = 120 + (p.axEnd - p.t120) / ppm;
  const ppu = (p.yLo - p.y1) / (1 - low);
  const yMax = 1 + (p.y1 - p.yTop) / ppu;
  const yMin = low - (p.xAxisY - p.yLo) / ppu;

  const w = Math.round(p.axEnd - p.ax + YW + PR);
  const h = Math.round(p.xAxisY - p.yTop + PT + XH);
  const cv = document.createElement('canvas');
  cv.width = w; cv.height = h;
  cv.style.left = (p.ax - YW) + 'px';
  cv.style.top = (p.yTop - PT) + 'px';
  cv.style.width = w + 'px';
  cv.style.height = h + 'px';
  fig.appendChild(cv);

  const datasets = [];
  p.series.forEach(function (sr) {
    datasets.push({
      data: sr.T.map((t, i) => ({ x: t, y: sr.S[i] })),
      showLine: true, stepped: 'before', borderColor: lineColor[sr.col], borderWidth: 2,
      pointRadius: 0, order: drawOrder[sr.col] * 2 + 1
    });
    datasets.push({
      data: sr.C.map(t => ({ x: t, y: survAt(sr.T, sr.S, t) })),
      showLine: false, pointStyle: 'cross', pointRadius: 8.5, borderWidth: 2.6,
      borderColor: lineColor[sr.col], backgroundColor: lineColor[sr.col], order: drawOrder[sr.col] * 2
    });
  });

  const yt = p.low ? yTicksLN : yTicks;
  new Chart(cv, {
    type: 'scatter',
    data: { datasets: datasets },
    options: {
      responsive: false,
      animation: false,
      events: [],
      layout: { padding: { top: PT, right: PR, left: 0, bottom: 0 } },
      plugins: { legend: { display: false }, tooltip: { enabled: false } },
      scales: {
        x: {
          type: 'linear', min: xMin, max: xMax,
          afterFit: function (sc) { sc.height = XH; },
          afterBuildTicks: function (sc) { sc.ticks = xTicks.map(v => ({ value: v })); },
          grid: { drawOnChartArea: false, drawTicks: true, tickLength: 10, color: '#b8b8b8', lineWidth: 2 },
          border: { display: true, color: '#555', width: 2 },
          ticks: { padding: 13, autoSkip: false, maxRotation: 0, color: '#333',
                   font: { family: 'DejaVu Sans', size: 17 }, callback: v => String(v) }
        },
        y: {
          type: 'linear', min: yMin, max: yMax,
          afterFit: function (sc) { sc.width = YW; },
          afterBuildTicks: function (sc) { sc.ticks = yt.map(v => ({ value: v })); },
          grid: { drawOnChartArea: false, drawTicks: true, tickLength: 10, color: '#b8b8b8', lineWidth: 2 },
          border: { display: true, color: '#555', width: 2 },
          ticks: { padding: 12, autoSkip: false, color: '#333',
                   font: { family: 'DejaVu Sans', size: 17 }, callback: v => Number(v).toFixed(2) }
        }
      }
    }
  });

  // panel letter, axis titles, legend and p value
  addText('letter', p.id, p.lx, p.ly);
  addText('xt', 'Follow-up time (months)', p.xt[0], p.xt[1]);
  addText('yt', 'Overall survival', p.yt[0], p.yt[1]);
  p.series.forEach(function (sr, i) {
    const k = document.createElement('div');
    k.className = 'key';
    k.style.left = p.key[0] + 'px';
    k.style.top = p.keyY[i] + 'px';
    k.style.width = (p.key[1] - p.key[0]) + 'px';
    k.style.background = keyColor[sr.col];
    fig.appendChild(k);
    addText('leg', p.labels[i], p.tx, p.keyY[i]);
  });
  addText('leg', '<i>P</i>=' + pValues[p.id], p.tx, p.pY);
}

panels.forEach(drawPanel);

// PSM group labels with their bars
addText('grp', 'Pre-PSM', 159.5, 1714);
addText('grp', 'Post-PSM', 159, 2213);
[[252.6, 1567, 1923], [253.7, 2052, 2407]].forEach(function (b) {
  const d = document.createElement('div');
  d.className = 'bar';
  d.style.left = (b[0] - 1.5) + 'px';
  d.style.top = b[1] + 'px';
  d.style.height = (b[2] - b[1]) + 'px';
  fig.appendChild(d);
});
</script>
</body>
</html>
